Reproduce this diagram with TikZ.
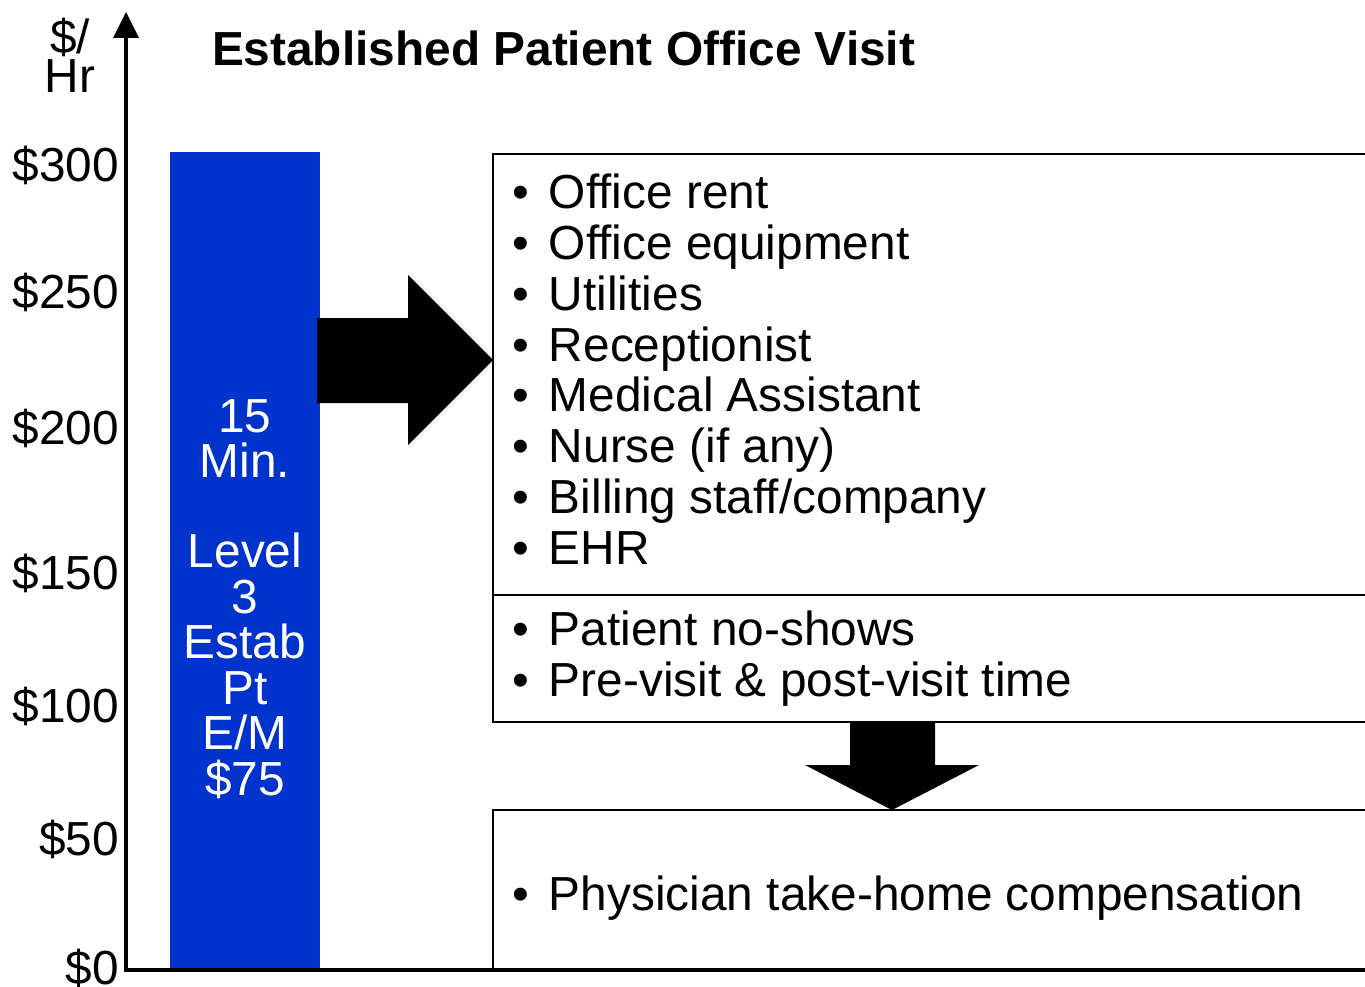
\documentclass[tikz,border=0pt]{standalone}
\usepackage{fontspec}
\setmainfont{Liberation Sans}
\definecolor{barblue}{RGB}{0,51,204}
\begin{document}
\begin{tikzpicture}[x=1pt,y=-1pt,
  txt/.style={font=\fontsize{47.8}{51}\selectfont, inner sep=0pt, outer sep=0pt},
  ylab/.style={txt, anchor=base east},
  item/.style={txt, anchor=base west},
  bartxt/.style={txt, anchor=base, text=white},
  boxline/.style={line width=2pt, black},
  blockarrow/.style={fill=black, draw=none}]
\useasboundingbox[fill=white] (0,0) rectangle (1365,987);
% axes
\coordinate (origin) at (126,970);
\coordinate (ytop) at (126,12);
\coordinate (xend) at (1365,970);
\fill[barblue] (170,152) rectangle (320,970);
\draw[line width=4pt] (126,37) -- (origin) -- (xend);
\fill (ytop) -- (139,38) -- (113,38) -- cycle;
% y labels
\node[ylab] (l300) at (119,182) {\$300};
\node[ylab] (l250) at (119,308) {\$250};
\node[ylab] (l200) at (119,444) {\$200};
\node[ylab] (l150) at (119,589) {\$150};
\node[ylab] (l100) at (119,722) {\$100};
\node[ylab] (l50) at (119,855) {\$50};
\node[ylab] (l0) at (119,984) {\$0};
\node[txt, anchor=base] (ux1) at (70,54) {\$/};
\node[txt, anchor=base] (ux2) at (70,93) {Hr};
% title
\node[txt, anchor=base west, font=\fontsize{47.8}{51}\selectfont\bfseries] (title) at (212,66) {Established Patient Office Visit};
% bar text
\node[bartxt] (t1) at (245,432) {15};
\node[bartxt] (t2) at (245,477) {Min.};
\node[bartxt] (t3) at (245,567) {Level};
\node[bartxt] (t4) at (245,613) {3};
\node[bartxt] (t5) at (245,658) {Estab};
\node[bartxt] (t6) at (245,704) {Pt};
\node[bartxt] (t7) at (245,749) {E/M};
\node[bartxt] (t8) at (245,795) {\$75};
% boxes (open on the right, running off the picture)
\draw[boxline] (1366,154) -- (493,154) -- (493,722) -- (1366,722);
\draw[boxline] (493,595) -- (1366,595);
\draw[boxline] (1366,810) -- (493,810) -- (493,970);
% right block arrow
\fill[blockarrow] (317,318) -- (408,318) -- (408,275) -- (493,360) -- (408,445) -- (408,403) -- (317,403) -- cycle;
% down block arrow
\fill[blockarrow] (850,722) -- (935,722) -- (935,765) -- (979,765) -- (892,810) -- (805,765) -- (850,765) -- cycle;
% bullet items
\newcommand{\itm}[1]{\makebox[35pt][l]{\kern-2pt\textbullet}#1}
\node[item] (i1) at (514,209) {\itm{Office rent}};
\node[item] (i2) at (514,259) {\itm{Office equipment}};
\node[item] (i3) at (514,310) {\itm{Utilities}};
\node[item] (i4) at (514,361) {\itm{Receptionist}};
\node[item] (i5) at (514,411) {\itm{Medical Assistant}};
\node[item] (i6) at (514,462) {\itm{Nurse (if any)}};
\node[item] (i7) at (514,513) {\itm{Billing staff/company}};
\node[item] (i8) at (514,564) {\itm{EHR}};
\node[item] (j1) at (514,645) {\itm{Patient no-shows}};
\node[item] (j2) at (514,696) {\itm{Pre-visit \& post-visit time}};
\node[item] (k1) at (514,910) {\itm{Physician take-home compensation}};
\end{tikzpicture}
\end{document}
